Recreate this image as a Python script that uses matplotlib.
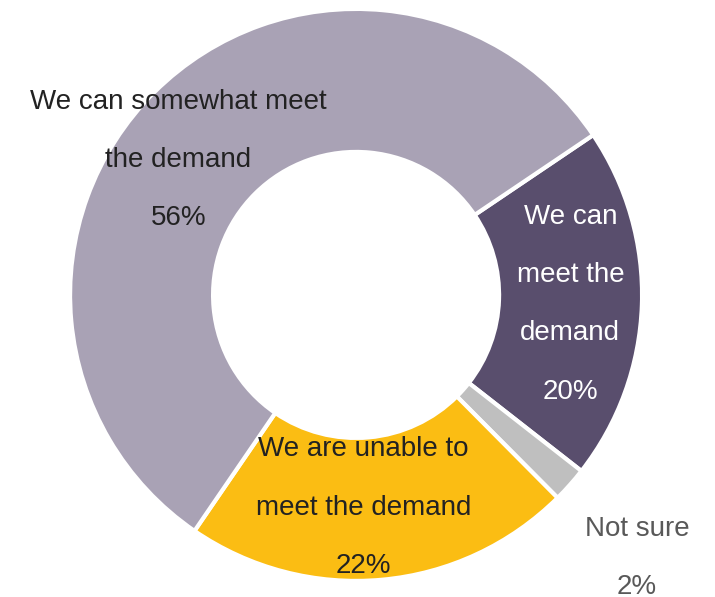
import numpy as np
import matplotlib.pyplot as plt

# slices in clockwise order, starting at the upper right
labels = ['We can\nmeet the\ndemand', 'Not sure',
          'We are unable to\nmeet the demand', 'We can somewhat meet\nthe demand']
values = [20, 2, 22, 56]
colors = ['#594e6d', '#bfbfbf', '#fbbd13', '#a9a2b5']
text_colors = ['white', '#595959', '#222222', '#222222']
label_r = [0.75, 1.345, 0.745, 0.78]
label_shift = [-0.5, -1.5, -3.2, 8.0]  # degrees away from the slice middle

plt.rcParams['font.family'] = ['Liberation Sans', 'DejaVu Sans']

fig = plt.figure(figsize=(7.15, 5.97), dpi=100)
ax = fig.add_axes([0, 0, 1, 1])

start = 34
wedges, _ = ax.pie(values, colors=colors, startangle=start, counterclock=False,
                   radius=1, wedgeprops=dict(width=0.5, edgecolor='white', linewidth=3))

# label each slice near its middle angle
ang = start
for lab, v, tc, r, sh in zip(labels, values, text_colors, label_r, label_shift):
    mid = np.deg2rad(ang - v * 360 / 100 / 2 + sh)
    ang -= v * 360 / 100
    ax.text(r * np.cos(mid), r * np.sin(mid), f'{lab}\n{v}%', ha='center', va='center',
            color=tc, fontsize=20, linespacing=2.62)

ax.set_xlim(-1.245, 1.255)
ax.set_ylim(-1.056, 1.031)
ax.set_aspect('equal')
ax.axis('off')

fig.savefig('out.png', dpi=100)
